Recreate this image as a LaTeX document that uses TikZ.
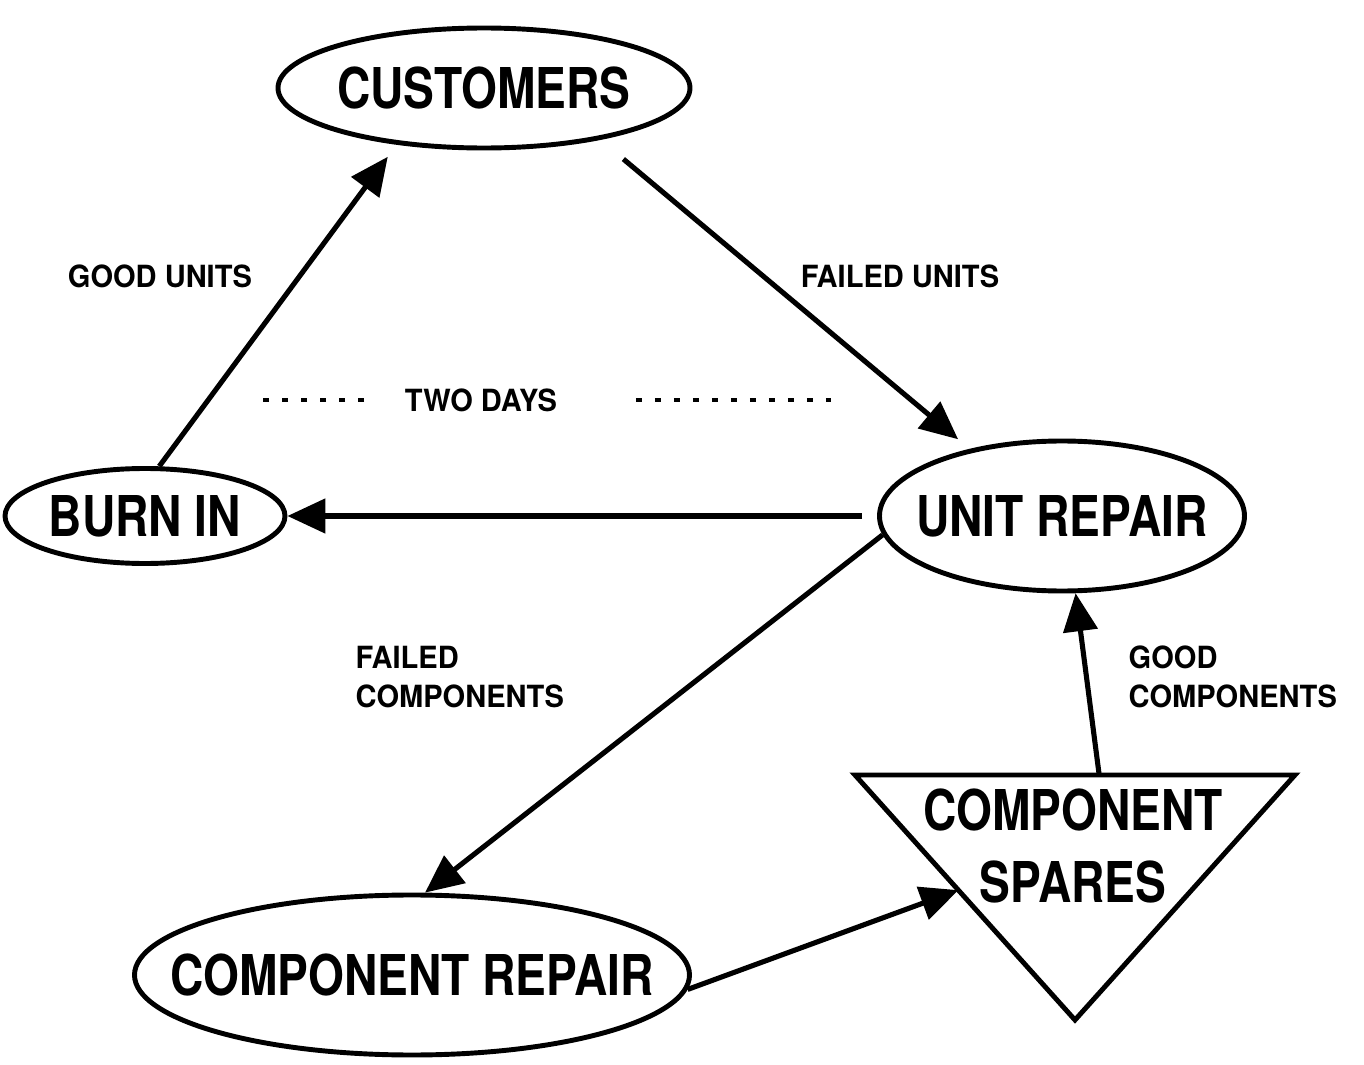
\documentclass[tikz,border=0pt]{standalone}
\usepackage{fontspec}
\usetikzlibrary{shapes.geometric, arrows.meta, positioning, calc}
\newfontfamily\stagefont{TeX Gyre Heros}[FakeStretch=0.82]
\newfontfamily\flowfont{TeX Gyre Heros}[FakeStretch=0.95]
\tikzset{
  stagetext/.style={inner sep=0pt, align=center,
    font=\stagefont\bfseries\fontsize{16}{20.5}\selectfont},
  stage/.style={ellipse, draw, line width=1.4pt, inner sep=0pt},
  flow/.style={-{Triangle[length=3.8mm, width=3.4mm]}, line width=1.45pt},
  flowlabel/.style={inner sep=0pt, align=left,
    font=\flowfont\bfseries\fontsize{8.7}{11.1}\selectfont},
  daysline/.style={line width=1.4pt, dash pattern=on 0.65mm off 1.25mm}
}

\begin{document}
\begin{tikzpicture}
  \useasboundingbox (0,0) rectangle (13.64,10.64);

  % repair loop stages (text set as centre label so the ellipse keeps its size)
  \node[stage, minimum width=4.12cm, minimum height=1.2cm,
    label={[stagetext]center:CUSTOMERS}] (cust) at (4.84,9.76) {};
  \node[stage, minimum width=2.8cm, minimum height=0.95cm,
    label={[stagetext]center:BURN IN}] (burn) at (1.45,5.48) {};
  \node[stage, minimum width=3.65cm, minimum height=1.5cm,
    label={[stagetext]center:UNIT REPAIR}] (unit) at (10.62,5.48) {};
  \node[stage, minimum width=5.55cm, minimum height=1.6cm,
    label={[stagetext]center:COMPONENT REPAIR}] (comprep) at (4.12,0.89) {};

  % spares pool (upside-down triangle)
  \coordinate (sparesTL) at (8.55,2.89);
  \coordinate (sparesTR) at (12.95,2.89);
  \coordinate (sparesB) at (10.75,0.44);
  \draw[line width=1.4pt, line join=miter] (sparesTL) -- (sparesTR) -- (sparesB) -- cycle;
  \node[stagetext] (spares) at (10.73,2.18) {COMPONENT\\SPARES};
  \coordinate (sparesIn) at ($(sparesTL)!0.47!(sparesB)$);
  \coordinate (sparesOut) at ($(sparesTL)!0.555!(sparesTR)$);

  % flows
  \draw[flow, shorten >=1.5mm] (burn.74) -- (cust.-147);
  \draw[flow, shorten <=3mm, shorten >=1.5mm] (cust.-24) -- (unit.144);
  \draw[flow, shorten <=1.5mm] (unit.west) -- (burn.east);
  \draw[flow] (unit.-174) -- (comprep.81);
  \draw[flow] (comprep.-3) -- (sparesIn);
  \draw[flow] (sparesOut) -- (unit.-80);

  % labels
  \node[flowlabel] (goodunits) at (1.60,7.88) {GOOD UNITS};
  \node[flowlabel] (failedunits) at (9.00,7.88) {FAILED UNITS};
  \node[flowlabel, anchor=west] (failedcomp) at (3.55,3.87) {FAILED\\COMPONENTS};
  \node[flowlabel, anchor=west] (goodcomp) at (11.28,3.87) {GOOD\\COMPONENTS};

  % burn-in time
  \node[flowlabel] (days) at (4.81,6.64) {TWO DAYS};
  \draw[daysline] ([xshift=-4mm]days.west) -- ++(-1.05,0);
  \draw[daysline] ([xshift=7.8mm]days.east) -- ++(1.95,0);
\end{tikzpicture}
\end{document}
